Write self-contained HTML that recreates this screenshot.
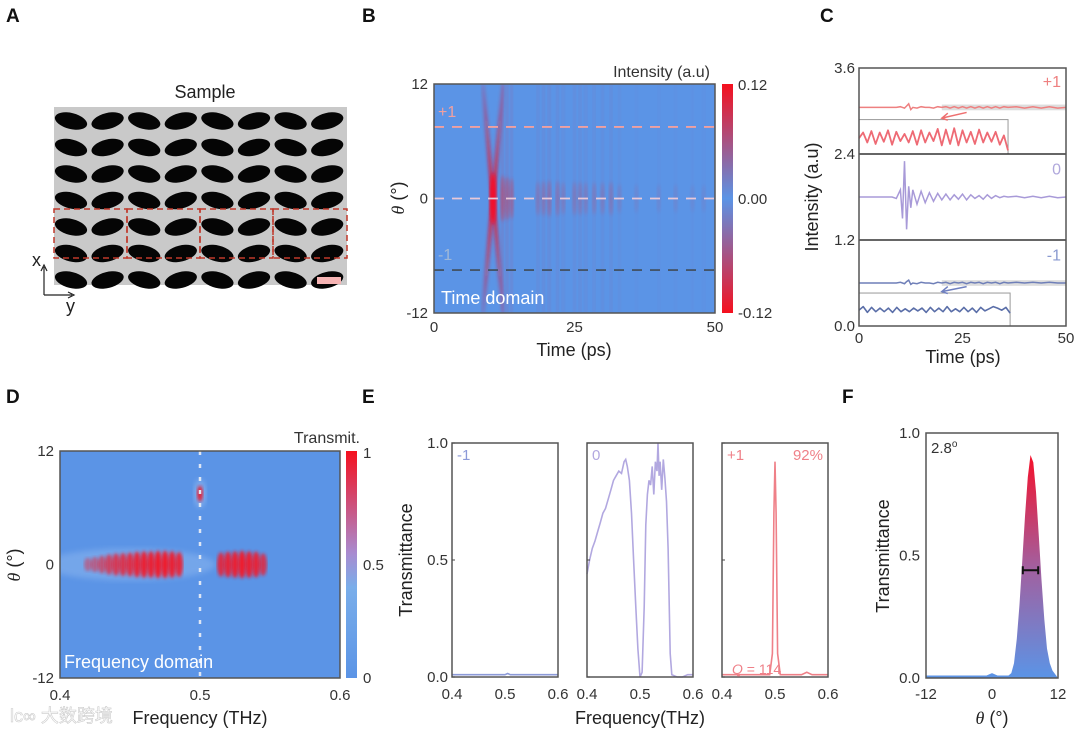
<!DOCTYPE html>
<html><head><meta charset="utf-8">
<style>
html,body{margin:0;padding:0;background:#fff;}
svg{display:block;font-family:"Liberation Sans","Noto Sans CJK SC",sans-serif;}
.t{font-size:15px;fill:#333;}
.ti{font-size:18px;fill:#222;}
.pl{font-size:19px;font-weight:bold;fill:#111;}
</style></head>
<body>
<svg id="fig" width="1080" height="735" viewBox="0 0 1080 735" xmlns="http://www.w3.org/2000/svg">
<defs>
<linearGradient id="cbar" x1="0" y1="0" x2="0" y2="1">
<stop offset="0" stop-color="#f5101e"/><stop offset="0.5" stop-color="#5b94e6"/><stop offset="1" stop-color="#f5101e"/></linearGradient>
<linearGradient id="cbar2" x1="0" y1="0" x2="0" y2="1">
<stop offset="0" stop-color="#f5101e"/><stop offset="0.45" stop-color="#a98bd0"/><stop offset="0.6" stop-color="#7aaeea"/><stop offset="1" stop-color="#5b94e6"/></linearGradient>
<linearGradient id="fgrad" x1="0" y1="0" x2="0" y2="1">
<stop offset="0" stop-color="#f5102a"/><stop offset="0.5" stop-color="#a35f9e"/><stop offset="1" stop-color="#5b94e6"/></linearGradient>
<linearGradient id="xfade" x1="0" y1="0" x2="0" y2="1">
<stop offset="0" stop-color="#e8102a" stop-opacity="0.15"/><stop offset="0.5" stop-color="#e8102a" stop-opacity="1"/><stop offset="1" stop-color="#e8102a" stop-opacity="0.15"/></linearGradient>
<filter id="blur2"><feGaussianBlur stdDeviation="1.6"/></filter>
<filter id="blur4"><feGaussianBlur stdDeviation="3"/></filter>
<clipPath id="clipB"><rect x="434" y="84" width="281" height="229"/></clipPath>
<clipPath id="clipD"><rect x="60" y="451" width="280" height="227"/></clipPath>
</defs>

<!-- Panel A -->
<text class="pl" x="6" y="22">A</text>
<text class="ti" x="205" y="98" text-anchor="middle">Sample</text>
<rect x="54" y="107" width="293" height="178" fill="#c9c9c9"/>
<g id="ellipses"></g>
<g fill="none" stroke="#c0392b" stroke-width="1.5" stroke-dasharray="6,4">
<rect x="54" y="209" width="73" height="49"/><rect x="127" y="209" width="73" height="49"/><rect x="200" y="209" width="73" height="49"/><rect x="273" y="209" width="74" height="49"/>
</g>
<rect x="317" y="277" width="24" height="7" fill="#f6b4b4"/>
<g stroke="#222" stroke-width="1.2" fill="none">
<line x1="44" y1="295" x2="44" y2="267"/><line x1="44" y1="295" x2="72" y2="295"/>
<path d="M41,271 L44,265 L47,271 M68,292 L74,295 L68,298"/>
</g>
<text class="ti" x="32" y="266">x</text>
<text class="ti" x="66" y="312">y</text>

<!-- Panel B -->
<text class="pl" x="362" y="22">B</text>
<g id="panelB"></g>
<rect x="722" y="84" width="11" height="229" fill="url(#cbar)"/>
<text class="t" x="738" y="90">0.12</text>
<text class="t" x="738" y="204">0.00</text>
<text class="t" x="738" y="318">-0.12</text>
<text class="t" x="710" y="77" text-anchor="end" style="font-size:16px">Intensity (a.u)</text>
<text class="ti" x="574" y="356" text-anchor="middle">Time (ps)</text>
<text class="ti" transform="translate(404,198) rotate(-90)" text-anchor="middle"><tspan font-style="italic" font-family="Liberation Serif">θ</tspan> (°)</text>

<!-- Panel C -->
<text class="pl" x="820" y="22">C</text>
<g id="panelC"></g>
<text class="ti" x="963" y="363" text-anchor="middle">Time (ps)</text>
<text class="ti" transform="translate(818,197) rotate(-90)" text-anchor="middle">Intensity (a.u)</text>

<!-- Panel D -->
<text class="pl" x="6" y="403">D</text>
<g id="panelD"></g>
<rect x="346" y="451" width="11" height="227" fill="url(#cbar2)"/>
<text class="t" x="363" y="458">1</text>
<text class="t" x="363" y="570">0.5</text>
<text class="t" x="363" y="683">0</text>
<text class="t" x="360" y="443" text-anchor="end" style="font-size:16px">Transmit.</text>
<text class="ti" x="200" y="724" text-anchor="middle">Frequency (THz)</text>
<text class="ti" transform="translate(20,565) rotate(-90)" text-anchor="middle"><tspan font-style="italic" font-family="Liberation Serif">θ</tspan> (°)</text>
<text x="10" y="722" style="font-size:18px;fill:#fff;stroke:#ccc;stroke-width:0.6">lc∞ 大数跨境</text>

<!-- Panel E -->
<text class="pl" x="362" y="403">E</text>
<g id="panelE"></g>
<text class="ti" x="640" y="724" text-anchor="middle">Frequency(THz)</text>
<text class="ti" transform="translate(412,560) rotate(-90)" text-anchor="middle">Transmittance</text>

<!-- Panel F -->
<text class="pl" x="842" y="403">F</text>
<g id="panelF"></g>
<text class="ti" x="992" y="724" text-anchor="middle"><tspan font-style="italic" font-family="Liberation Serif">θ</tspan> (°)</text>
<text class="ti" transform="translate(889,556) rotate(-90)" text-anchor="middle">Transmittance</text>
</svg>

<script>
// ---------- data ----------
const bStreakTimes = [12.2,13.0,13.8,18.5,19.5,20.5,22,23,25,26,27,28.5,30,31.5,33,36,40,43,46,48];
const bStreakAmps  = [0.8,0.7,0.6,0.35,0.4,0.45,0.4,0.3,0.35,0.35,0.3,0.3,0.3,0.35,0.2,0.15,0.15,0.15,0.12,0.12];
const bCrossTime = 10.5;
const bOrderAngles = [7.5, 0, -7.5];
const bTicksX = [0,25,50];
const bTicksY = [12,0,-12];

const cTime = [0,2,4,6,8,9,10,10.5,11,11.5,12,12.5,13,14,15,16,17,18,19,20,21,22,23,24,25,26,27,28,29,30,31,32,33,34,35,36,38,40,42,44,46,48,50];
const cZero = [1.8,1.8,1.8,1.8,1.8,1.78,1.9,1.5,2.3,1.35,1.95,1.65,1.9,1.7,1.88,1.72,1.86,1.74,1.85,1.76,1.84,1.76,1.83,1.77,1.84,1.76,1.83,1.78,1.82,1.77,1.83,1.78,1.82,1.79,1.81,1.8,1.81,1.79,1.81,1.79,1.81,1.79,1.8];
const cPlus = [3.05,3.05,3.05,3.05,3.05,3.05,3.06,3.05,3.04,3.07,3.1,3.02,3.05,3.04,3.06,3.05,3.05,3.04,3.06,3.05,3.06,3.04,3.06,3.04,3.06,3.04,3.06,3.04,3.06,3.04,3.06,3.04,3.06,3.04,3.06,3.05,3.06,3.04,3.06,3.04,3.06,3.04,3.05];
const cMinus = [0.6,0.6,0.6,0.6,0.6,0.6,0.61,0.6,0.59,0.62,0.64,0.58,0.6,0.59,0.61,0.6,0.6,0.59,0.61,0.6,0.61,0.59,0.61,0.6,0.61,0.59,0.61,0.6,0.61,0.59,0.61,0.6,0.61,0.59,0.61,0.6,0.61,0.6,0.61,0.6,0.61,0.6,0.6];
const cInsetPlus = [2.62,2.7,2.56,2.72,2.54,2.7,2.57,2.73,2.53,2.71,2.58,2.68,2.56,2.72,2.53,2.73,2.56,2.7,2.58,2.75,2.52,2.74,2.54,2.76,2.52,2.73,2.56,2.71,2.54,2.74,2.56,2.7,2.57,2.71,2.53,2.66,2.45];
const cInsetMinus = [0.22,0.27,0.19,0.26,0.2,0.25,0.2,0.25,0.19,0.26,0.2,0.24,0.2,0.25,0.21,0.25,0.19,0.26,0.2,0.25,0.2,0.27,0.2,0.24,0.2,0.26,0.2,0.25,0.19,0.26,0.21,0.24,0.27,0.25,0.22,0.26,0.18];
const cTicksY = [0,1.2,2.4,3.6];
const cTicksYLabels = ["0.0","1.2","2.4","3.6"];
const cTicksX = [0,25,50];

const dBandFreqs = [0.42,0.425,0.43,0.435,0.44,0.445,0.45,0.455,0.46,0.465,0.47,0.475,0.48,0.485,0.515,0.52,0.525,0.53,0.535,0.54,0.545];
const dBandAmps  = [0.2,0.3,0.45,0.6,0.7,0.75,0.8,0.9,0.95,0.95,1,1,0.95,0.85,0.8,0.9,0.95,1,0.95,0.9,0.7];
const dSpotFreq = 0.5, dSpotAngle = 7.5, dSpotAmp = 0.9;
const dTicksX = [0.4,0.5,0.6];
const dTicksY = [12,0,-12];

const eFreqMinus = [0.40,0.45,0.50,0.505,0.51,0.55,0.60];
const eValMinus  = [0.01,0.01,0.01,0.015,0.01,0.01,0.01];
const eFreqZero = [0.40,0.405,0.41,0.415,0.42,0.425,0.43,0.435,0.44,0.445,0.45,0.455,0.46,0.465,0.47,0.473,0.476,0.48,0.484,0.488,0.492,0.496,0.50,0.504,0.508,0.511,0.514,0.517,0.52,0.523,0.526,0.529,0.532,0.534,0.536,0.538,0.541,0.544,0.547,0.55,0.553,0.557,0.56,0.57,0.58,0.59,0.60];
const eValZero  = [0.44,0.5,0.55,0.58,0.62,0.66,0.7,0.72,0.76,0.8,0.84,0.86,0.88,0.87,0.92,0.93,0.9,0.84,0.7,0.5,0.3,0.12,0.0,0.02,0.3,0.65,0.78,0.84,0.82,0.9,0.78,0.92,0.88,1.0,0.86,0.92,0.8,0.93,0.85,0.75,0.55,0.1,0.01,0.0,0.0,0.01,0.01];
const eFreqPlus = [0.40,0.45,0.48,0.49,0.495,0.498,0.5,0.502,0.505,0.51,0.52,0.55,0.56,0.57,0.60];
const eValPlus  = [0.01,0.01,0.01,0.01,0.1,0.7,0.92,0.7,0.1,0.01,0.01,0.01,0.02,0.01,0.01];
const eTicksX = [0.4,0.5,0.6];
const eTicksY = [0,0.5,1.0];
const eTicksYLabels = ["0.0","0.5","1.0"];

const fAngles = [-12,-8,-4,-1,0,1,3,3.5,4,4.5,5,5.5,6,6.5,7,7.5,8,8.5,9,9.5,10,10.5,11,12];
const fValues = [0.01,0.01,0.01,0.01,0.02,0.01,0.01,0.02,0.06,0.16,0.3,0.48,0.66,0.82,0.91,0.88,0.76,0.58,0.4,0.24,0.12,0.06,0.03,0.0];
const fFwhm = [5.6,8.4];
const fFwhmLevel = 0.44;
const fTicksX = [-12,0,12];
const fTicksY = [0,0.5,1.0];
const fTicksYLabels = ["0.0","0.5","1.0"];

// ---------- helpers ----------
const NS = "http://www.w3.org/2000/svg";
function mk(tag, attrs, parent){ const e=document.createElementNS(NS,tag); for(const k in attrs) e.setAttribute(k,attrs[k]); parent.appendChild(e); return e; }
function lin(d0,d1,r0,r1){ return v => r0 + (v-d0)/(d1-d0)*(r1-r0); }
function pathFrom(xs,ys,sx,sy){ return xs.map((x,i)=>(i?"L":"M")+sx(x).toFixed(1)+","+sy(ys[i]).toFixed(1)).join(""); }
function frame(g,x,y,w,h){ const r=mk("rect",{x:x,y:y,width:w,height:h,fill:"none",stroke:"#555","stroke-width":1.5},g);
  
   return r; }
function tickLabel(g,x,y,txt,anchor){ const t=mk("text",{x:x,y:y,"text-anchor":anchor,class:"t"},g); t.textContent=txt;
  
   return t; }

// ---------- Panel A ----------
(function(){
  const g=document.getElementById("ellipses");
  for(let r=0;r<7;r++) for(let c=0;c<8;c++){
    const cx=71+c*36.6, cy=121+r*26.5, rot=(c%2===0)?14:-14;
    const e=mk("ellipse",{cx:cx,cy:cy,rx:16.5,ry:8,fill:"#050505",transform:`rotate(${rot} ${cx} ${cy})`},g);
    
    
  }
})();

// ---------- Panel B ----------
(function(){
  const g=document.getElementById("panelB");
  const sx=lin(0,50,434,715), sy=lin(12,-12,84,313);
  const bg=mk("rect",{x:434,y:84,width:281,height:229,fill:"#5b94e6"},g);
  
  
  const inner=mk("g",{"clip-path":"url(#clipB)"},g);
  bStreakTimes.forEach((t,i)=>{
    const a=bStreakAmps[i];
    const s=mk("rect",{x:sx(t)-1.5,y:84,width:3,height:229,fill:"#b04a80",opacity:(a*0.3).toFixed(2),filter:"url(#blur2)"},inner);
    
    
    const b=mk("ellipse",{cx:sx(t),cy:sy(0),rx:2.2,ry:12+a*14,fill:"#d8304a",opacity:(a*0.7).toFixed(2),filter:"url(#blur2)"},inner);
    
    
  });
  [[-1.8,1.8],[1.8,-1.8]].forEach(d=>{
    const l=mk("line",{x1:sx(bCrossTime+d[0]),y1:sy(12),x2:sx(bCrossTime+d[1]),y2:sy(-12),stroke:"url(#xfade)","stroke-width":3.5,filter:"url(#blur2)"},inner);
    
    
  });
  const core=mk("ellipse",{cx:sx(bCrossTime),cy:sy(0),rx:3.5,ry:26,fill:"#f5102a",opacity:0.85,filter:"url(#blur2)"},inner);
  
  
  const colors=["#f0a0a0","#e8c8d8","#44556a"];
  bOrderAngles.forEach((a,i)=>{
    const l=mk("line",{x1:434,y1:sy(a),x2:715,y2:sy(a),stroke:colors[i],"stroke-width":1.8,"stroke-dasharray":"10,8"},g);
    
    
  });
  const p1=mk("text",{x:438,y:sy(7.5)-10,style:"font-size:16px;fill:#f0a0a0"},g); p1.textContent="+1";
  
  
  const m1=mk("text",{x:438,y:sy(-7.5)-10,style:"font-size:16px;fill:#a0b8d8"},g); m1.textContent="-1";
  
  
  const td=mk("text",{x:441,y:304,style:"font-size:18px;fill:#fff"},g); td.textContent="Time domain";
  
  
  frame(g,434,84,281,229);
  bTicksX.forEach(v=>tickLabel(g,sx(v),332,String(v),"middle"));
  bTicksY.forEach(v=>tickLabel(g,428,sy(v)+5,String(v),"end"));
})();

// ---------- Panel C ----------
(function(){
  const g=document.getElementById("panelC");
  const sx=lin(0,50,859,1066), sy=lin(0,3.6,326,68);
  const hb1=mk("rect",{x:sx(20),y:sy(3.09),width:sx(50)-sx(20),height:sy(3.01)-sy(3.09),fill:"#bbb",opacity:0.5},g);
  
  
  const hb2=mk("rect",{x:sx(20),y:sy(0.64),width:sx(50)-sx(20),height:sy(0.56)-sy(0.64),fill:"#bbb",opacity:0.5},g);
  
  
  const ib1=mk("rect",{x:sx(0),y:sy(2.88),width:sx(36)-sx(0),height:sy(2.4)-sy(2.88),fill:"none",stroke:"#999","stroke-width":1},g);
  
  
  const ib2=mk("rect",{x:sx(0),y:sy(0.46),width:sx(36.5)-sx(0),height:sy(0)-sy(0.46),fill:"none",stroke:"#999","stroke-width":1},g);
  
  
  const tr=[[cPlus,"#ee8080","trace-plus1"],[cZero,"#a89ad8","trace-zero"],[cMinus,"#6f7fb8","trace-minus1"]];
  tr.forEach(d=>{
    const p=mk("path",{d:pathFrom(cTime,d[0],sx,sy),fill:"none",stroke:d[1],"stroke-width":1.5},g);
    
    
  });
  const tIn=cInsetPlus.map((v,i)=>i);
  const sxi=lin(0,cInsetPlus.length-1,sx(0),sx(36));
  const pi=mk("path",{d:pathFrom(tIn,cInsetPlus,sxi,sy),fill:"none",stroke:"#ee6a74","stroke-width":1.8,"stroke-linejoin":"round"},g);
  
  
  const tIn2=cInsetMinus.map((v,i)=>i);
  const sxi2=lin(0,cInsetMinus.length-1,sx(0),sx(36.5));
  const pm=mk("path",{d:pathFrom(tIn2,cInsetMinus,sxi2,sy),fill:"none",stroke:"#5a6ea8","stroke-width":1.6,"stroke-linejoin":"round"},g);
  
  
  const a1=mk("path",{d:`M${sx(26)},${sy(2.98)} L${sx(20)},${sy(2.9)} M${sx(20)+6},${sy(2.9)-5} L${sx(20)},${sy(2.9)} L${sx(20)+6},${sy(2.9)+2}`,stroke:"#ee7070",fill:"none","stroke-width":1.5},g);
  
  
  const a2=mk("path",{d:`M${sx(26)},${sy(0.55)} L${sx(20)},${sy(0.48)} M${sx(20)+6},${sy(0.48)-5} L${sx(20)},${sy(0.48)} L${sx(20)+6},${sy(0.48)+2}`,stroke:"#7080c0",fill:"none","stroke-width":1.5},g);
  
  
  [1.2,2.4].forEach(v=>{
    const l=mk("line",{x1:859,y1:sy(v),x2:1066,y2:sy(v),stroke:"#333","stroke-width":1.5},g);
    
    
  });
  frame(g,859,68,207,258);
  const labs=[["+1",3.42,"#ee8080"],["0",2.2,"#b0a8dc"],["-1",1.0,"#8a9ad0"]];
  labs.forEach(l=>{ const t=mk("text",{x:1061,y:sy(l[1])+6,"text-anchor":"end",style:`font-size:16px;fill:${l[2]}`},g); t.textContent=l[0];
    
     });
  cTicksY.forEach((v,i)=>tickLabel(g,855,sy(v)+5,cTicksYLabels[i],"end"));
  cTicksX.forEach(v=>tickLabel(g,sx(v),343,String(v),"middle"));
})();

// ---------- Panel D ----------
(function(){
  const g=document.getElementById("panelD");
  const sx=lin(0.4,0.6,60,340), sy=lin(12,-12,451,678);
  const bg=mk("rect",{x:60,y:451,width:280,height:227,fill:"#5b94e6"},g);
  
  
  const inner=mk("g",{"clip-path":"url(#clipD)"},g);
  const halo=mk("ellipse",{cx:sx(0.45),cy:sy(0),rx:85,ry:16,fill:"#86b2ee",opacity:0.6,filter:"url(#blur4)"},inner);
  
  
  dBandFreqs.forEach((f,i)=>{
    const a=dBandAmps[i];
    const e=mk("ellipse",{cx:sx(f),cy:sy(0),rx:4,ry:5+a*9,fill:"#ee1a2e",opacity:(0.3+a*0.7).toFixed(2),filter:"url(#blur2)"},inner);
    
    
  });
  const sg=mk("ellipse",{cx:sx(dSpotFreq),cy:sy(dSpotAngle),rx:6,ry:14,fill:"#90b8f0",opacity:0.7,filter:"url(#blur4)"},inner);
  
  
  const sp=mk("ellipse",{cx:sx(dSpotFreq),cy:sy(dSpotAngle),rx:3,ry:8,fill:"#e8142a",opacity:dSpotAmp,filter:"url(#blur2)"},inner);
  
  
  const dl=mk("line",{x1:sx(0.5),y1:451,x2:sx(0.5),y2:678,stroke:"#dde6f4","stroke-width":2.5,"stroke-dasharray":"4,9"},g);
  
  
  const fd=mk("text",{x:64,y:668,style:"font-size:18px;fill:#fff"},g); fd.textContent="Frequency domain";
  
  
  frame(g,60,451,280,227);
  dTicksX.forEach(v=>tickLabel(g,sx(v),700,String(v),"middle"));
  dTicksY.forEach(v=>tickLabel(g,54,sy(v)+5,String(v),"end"));
})();

// ---------- Panel E ----------
(function(){
  const g=document.getElementById("panelE");
  const sy=lin(0,1,677,443);
  const panels=[[452,eFreqMinus,eValMinus,"#8c9ad8","-1","spectrum-minus1"],[587,eFreqZero,eValZero,"#b2a8e0","0","spectrum-zero"],[722,eFreqPlus,eValPlus,"#ef8088","+1","spectrum-plus1"]];
  panels.forEach((p,k)=>{
    const sx=lin(0.4,0.6,p[0],p[0]+106);
    const path=mk("path",{d:pathFrom(p[1],p[2],sx,sy),fill:"none",stroke:p[3],"stroke-width":1.6},g);
    
    
    frame(g,p[0],443,106,234);
    const t=mk("text",{x:p[0]+5,y:460,style:`font-size:15px;fill:${p[3]}`},g); t.textContent=p[4];
    
    
    eTicksX.forEach(v=>tickLabel(g,sx(v),699,String(v),"middle"));
    eTicksY.forEach(v=>{ const tk=mk("line",{x1:p[0],y1:sy(v),x2:p[0]+3,y2:sy(v),stroke:"#444"},g);
      
       });
  });
  eTicksY.forEach((v,i)=>tickLabel(g,448,sy(v)+5,eTicksYLabels[i],"end"));
  const pc=mk("text",{x:823,y:460,"text-anchor":"end",style:"font-size:15px;fill:#ef8088"},g); pc.textContent="92%";
  
  
  const q=mk("text",{x:732,y:674,style:"font-size:14px;fill:#ef8088"},g); q.innerHTML='<tspan font-style="italic">Q</tspan> = 114';
  
  
})();

// ---------- Panel F ----------
(function(){
  const g=document.getElementById("panelF");
  const sx=lin(-12,12,926,1058), sy=lin(0,1,678,433);
  const d=pathFrom(fAngles,fValues,sx,sy)+`L${sx(12)},${sy(0)} L${sx(-12)},${sy(0)} Z`;
  const area=mk("path",{d:d,fill:"url(#fgrad)",stroke:"none","stroke-linejoin":"round"},g);
  
  
  const eb=mk("path",{d:`M${sx(fFwhm[0])},${sy(fFwhmLevel)} L${sx(fFwhm[1])},${sy(fFwhmLevel)} M${sx(fFwhm[0])},${sy(fFwhmLevel)-4} v8 M${sx(fFwhm[1])},${sy(fFwhmLevel)-4} v8`,stroke:"#111","stroke-width":2,fill:"none"},g);
  
  
  frame(g,926,433,132,245);
  const t=mk("text",{x:931,y:453,class:"t"},g); t.innerHTML='2.8<tspan dy="-6" style="font-size:10px">o</tspan>';
  
  
  fTicksX.forEach(v=>tickLabel(g,sx(v),699,String(v),"middle"));
  fTicksY.forEach((v,i)=>tickLabel(g,920,sy(v)+5,fTicksYLabels[i],"end"));
})();
</script>
</body></html>
